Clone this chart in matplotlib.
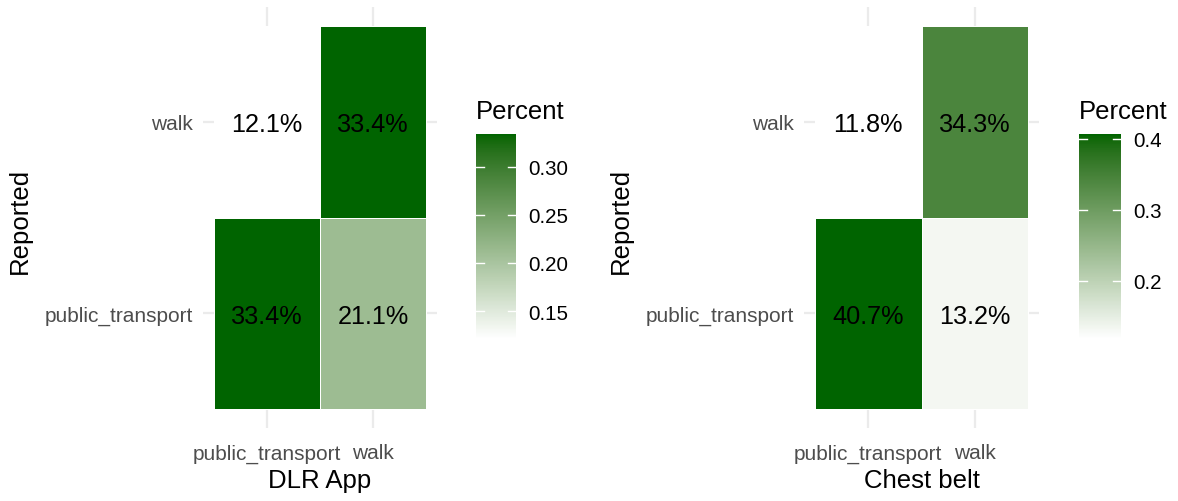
import numpy as np
import matplotlib
matplotlib.use("Agg")
import matplotlib.pyplot as plt
from matplotlib.colors import ListedColormap, Normalize, to_rgb
from matplotlib.cm import ScalarMappable

plt.rcParams['font.family'] = ['Liberation Sans', 'DejaVu Sans']

# categories (columns = predicted, rows = reported)
predicted = ['public_transport', 'walk']
reported = ['public_transport', 'walk']

# share of trips per cell, rows follow `reported`, columns follow `predicted`
dlr_app = np.array([[0.334, 0.211],
                    [0.121, 0.334]])
chest_belt = np.array([[0.407, 0.132],
                       [0.118, 0.343]])

panel_titles = ['DLR App', 'Chest belt']
dlr_ticks = [0.15, 0.20, 0.25, 0.30]
dlr_tick_labels = ['0.15', '0.20', '0.25', '0.30']
chest_ticks = [0.2, 0.3, 0.4]
chest_tick_labels = ['0.2', '0.3', '0.4']

W, H = 1178, 502

# --- white -> darkgreen ramp interpolated in CIELAB (like ggplot's gradient) ---
M = np.array([[0.4124, 0.3576, 0.1805],
              [0.2126, 0.7152, 0.0722],
              [0.0193, 0.1192, 0.9505]])
WHITE_XYZ = np.array([0.95047, 1.0, 1.08883])


def srgb_to_lab(rgb):
    c = np.asarray(rgb, float)
    lin = np.where(c <= 0.04045, c / 12.92, ((c + 0.055) / 1.055) ** 2.4)
    t = (M @ lin) / WHITE_XYZ
    d = 6 / 29
    f = np.where(t > d ** 3, np.cbrt(t), t / (3 * d * d) + 4 / 29)
    return np.array([116 * f[1] - 16, 500 * (f[0] - f[1]), 200 * (f[1] - f[2])])


def lab_to_srgb(lab):
    L, a, b = lab
    fy = (L + 16) / 116
    f = np.array([fy + a / 500, fy, fy - b / 200])
    d = 6 / 29
    t = np.where(f > d, f ** 3, 3 * d * d * (f - 4 / 29))
    lin = np.clip(np.linalg.inv(M) @ (t * WHITE_XYZ), 0, 1)
    c = np.where(lin <= 0.0031308, 12.92 * lin, 1.055 * lin ** (1 / 2.4) - 0.055)
    return np.clip(c, 0, 1)


lab_lo = srgb_to_lab(to_rgb('white'))
lab_hi = srgb_to_lab(to_rgb('darkgreen'))
ramp = [lab_to_srgb(lab_lo + s * (lab_hi - lab_lo)) for s in np.linspace(0, 1, 256)]
cmap = ListedColormap(ramp)


def px_rect(x0, x1, y0, y1):
    # image pixel box -> figure fraction rect
    return [x0 / W, 1 - y1 / H, (x1 - x0) / W, (y1 - y0) / H]


def draw_panel(fig, ax_box, cax_box, values, title, ticks, tick_labels):
    ax = fig.add_axes(px_rect(*ax_box))
    norm = Normalize(vmin=values.min(), vmax=values.max())
    edges = np.arange(len(predicted) + 1) + 0.5
    ax.pcolormesh(edges, edges, values, cmap=cmap, norm=norm,
                  edgecolors='white', linewidth=0.7, zorder=2)
    for i in range(len(reported)):
        for j in range(len(predicted)):
            ax.text(j + 1, i + 1, f'{values[i, j] * 100:.1f}%',
                    ha='center', va='center_baseline', fontsize=18.2,
                    color='black', zorder=3)

    ax.set_xlim(0.4, len(predicted) + 0.6)
    ax.set_ylim(0.4, len(reported) + 0.6)
    ax.set_xticks(range(1, len(predicted) + 1))
    ax.set_xticklabels(predicted)
    ax.set_yticks(range(1, len(reported) + 1))
    ax.set_yticklabels(reported)
    ax.tick_params(length=0, labelsize=15, labelcolor='#4d4d4d')
    ax.tick_params(axis='x', pad=11)
    ax.tick_params(axis='y', pad=7)
    ax.grid(True, color='#ebebeb', linewidth=1.6, zorder=0)
    ax.set_axisbelow(True)
    for s in ax.spines.values():
        s.set_visible(False)

    x0, x1, y0, y1 = ax_box
    fig.text((x0 - 183) / W, 1 - 221 / H, 'Reported', rotation=90,
             ha='center', va='center', fontsize=18.5)
    fig.text((x0 + x1) / 2 / W, 1 - 481 / H, title,
             ha='center', va='center', fontsize=18.5)

    # colour bar
    cax = fig.add_axes(px_rect(*cax_box))
    cb = fig.colorbar(ScalarMappable(norm=norm, cmap=cmap), cax=cax, ticks=ticks)
    cb.outline.set_visible(False)
    cb.ax.set_yticklabels(tick_labels)
    cb.ax.tick_params(length=0, pad=9, labelsize=14.8)
    for t in ticks:
        cax.axhline(t, xmin=0, xmax=0.2, color='white', linewidth=1)
        cax.axhline(t, xmin=0.8, xmax=1, color='white', linewidth=1)
    cax.text(0, 1.08, 'Percent', transform=cax.transAxes,
             ha='left', va='baseline', fontsize=18.5)


fig = plt.figure(figsize=(W / 100, H / 100), dpi=100)
draw_panel(fig, (203, 437, 8, 429), (476, 516, 135, 340),
           dlr_app, panel_titles[0], dlr_ticks, dlr_tick_labels)
draw_panel(fig, (804, 1039, 8, 429), (1079, 1121, 135, 340),
           chest_belt, panel_titles[1], chest_ticks, chest_tick_labels)

fig.savefig('out.png', dpi=100, facecolor='white')
